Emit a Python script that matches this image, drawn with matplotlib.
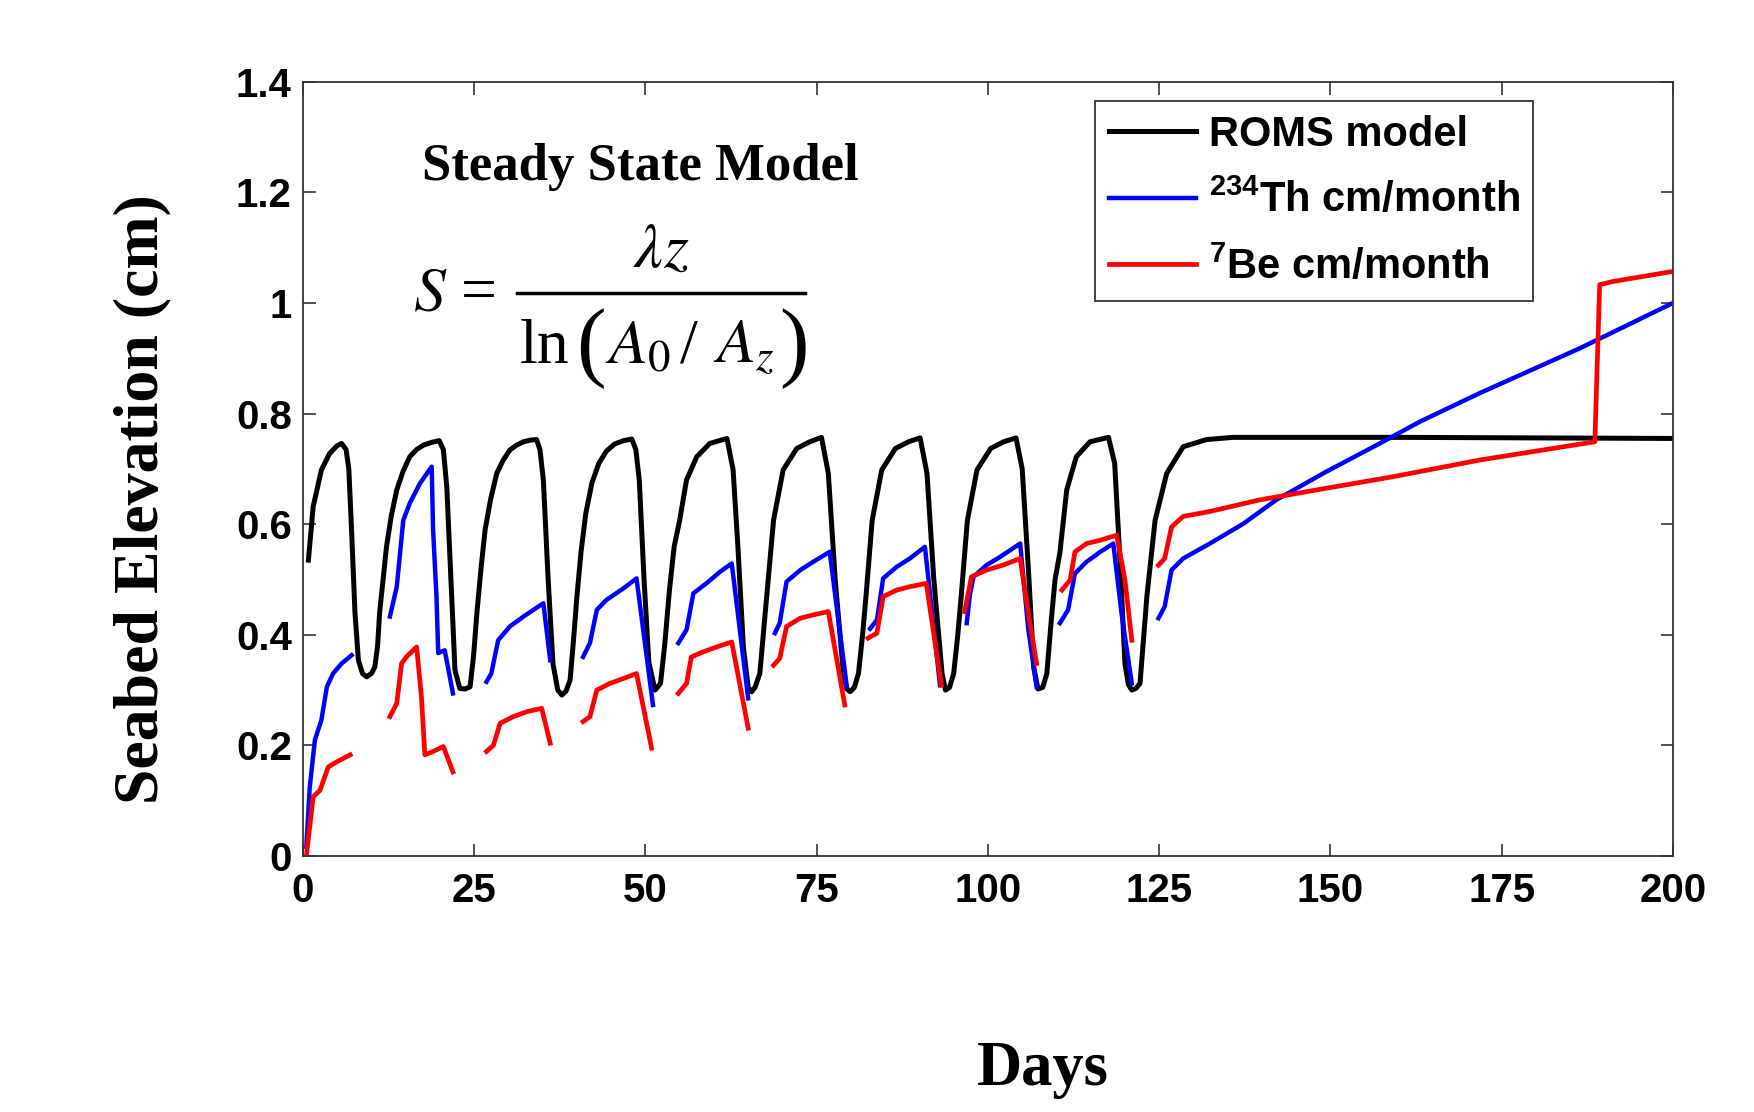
import numpy as np
import matplotlib
matplotlib.use('Agg')
import matplotlib.pyplot as plt
from matplotlib.font_manager import FontProperties
from matplotlib.lines import Line2D

# ROMS model (black)
roms_days = [0.8, 1.5, 2.7, 3.9, 5.0, 5.65, 6.3, 6.7, 7.1, 7.6, 8.1, 8.7, 9.3, 10.0, 10.5, 10.9,
             11.2, 11.7, 12.2, 12.9, 13.7, 14.6, 15.6, 16.6, 17.6, 18.8, 19.9, 20.5, 21.0, 21.5,
             22.2, 22.9, 23.7, 24.4, 24.9, 25.4, 26.0, 26.6, 27.4, 28.3, 29.2, 30.2, 31.2, 32.2,
             33.2, 34.1, 34.6, 35.1, 35.8, 36.5, 37.2, 37.8, 38.4, 39.0, 39.5, 40.0, 40.6, 41.3,
             42.2, 43.2, 44.3, 45.5, 46.8, 48.0, 48.6, 49.1, 49.8, 50.5, 51.4, 52.2, 52.8, 53.5,
             54.2, 55.0, 56.0, 57.5, 59.4, 61.9, 62.8, 63.5, 64.3, 65.0, 65.5, 66.0, 66.7, 67.2,
             67.7, 68.7, 70.1, 72.1, 74.0, 75.7, 76.7, 77.7, 78.9, 79.4, 79.9, 80.5, 81.1, 81.7,
             82.2, 83.1, 84.5, 86.5, 88.4, 90.1, 91.1, 92.1, 93.3, 93.8, 94.4, 95.0, 95.6, 96.1,
             97.0, 98.4, 100.4, 102.3, 104.1, 105.0, 105.9, 106.7, 107.3, 108.0, 108.6, 109.2,
             109.8, 110.5, 111.5, 112.9, 114.9, 117.6, 118.5, 119.3, 120.0, 120.5, 121.0, 121.6,
             122.2, 122.7, 123.2, 124.4, 126.1, 128.5, 131.9, 135.8, 160.0, 200.0]
roms_vals = [0.535, 0.632, 0.698, 0.728, 0.742, 0.746, 0.735, 0.700, 0.590, 0.440, 0.354, 0.330,
             0.324, 0.330, 0.342, 0.380, 0.440, 0.500, 0.559, 0.615, 0.662, 0.695, 0.722, 0.735,
             0.743, 0.748, 0.751, 0.735, 0.668, 0.530, 0.336, 0.303, 0.302, 0.306, 0.360, 0.440,
             0.520, 0.590, 0.645, 0.692, 0.715, 0.734, 0.743, 0.749, 0.752, 0.753, 0.735, 0.680,
             0.500, 0.348, 0.300, 0.291, 0.298, 0.318, 0.390, 0.469, 0.550, 0.620, 0.675, 0.710,
             0.732, 0.745, 0.751, 0.754, 0.735, 0.680, 0.500, 0.350, 0.300, 0.312, 0.380, 0.480,
             0.560, 0.607, 0.680, 0.722, 0.746, 0.755, 0.698, 0.559, 0.378, 0.305, 0.297, 0.305,
             0.330, 0.400, 0.469, 0.607, 0.698, 0.737, 0.749, 0.757, 0.692, 0.500, 0.330, 0.302,
             0.297, 0.305, 0.330, 0.400, 0.470, 0.607, 0.698, 0.737, 0.749, 0.756, 0.692, 0.500,
             0.330, 0.300, 0.305, 0.330, 0.400, 0.470, 0.607, 0.698, 0.737, 0.749, 0.756, 0.700,
             0.520, 0.340, 0.302, 0.305, 0.330, 0.420, 0.500, 0.548, 0.662, 0.722, 0.749, 0.757,
             0.710, 0.529, 0.348, 0.310, 0.300, 0.303, 0.312, 0.390, 0.469, 0.607, 0.692, 0.740,
             0.753, 0.757, 0.757, 0.755]

# 234Th (blue), NaN = gap between segments
th_days = [0.5, 1.0, 1.75, 2.7, 3.5, 4.4, 5.65, 7.1, np.nan,
           12.7, 13.7, 14.65, 15.6, 17.1, 18.8, 19.0, 19.5, 19.75, 20.7, 21.9, np.nan,
           26.8, 27.5, 28.5, 30.2, 32.2, 35.1, 36.1, np.nan,
           40.9, 41.9, 42.9, 44.3, 46.8, 48.7, 51.1, np.nan,
           54.8, 56.0, 57.0, 58.9, 60.9, 62.6, 65.0, np.nan,
           68.9, 69.6, 70.6, 72.6, 74.5, 76.9, 79.4, np.nan,
           82.8, 83.8, 84.7, 86.7, 88.6, 90.8, 93.0, np.nan,
           96.9, 97.4, 97.9, 99.8, 101.8, 104.7, 105.9, 107.1, np.nan,
           110.5, 111.7, 112.7, 114.4, 116.4, 118.3, 119.5, 121.0, np.nan,
           124.9, 125.8, 126.8, 128.5, 132.4, 137.3, 142.1, 149.4, 157.2, 163.0, 171.8, 186.4, 200.0]
th_vals = [0.017, 0.125, 0.21, 0.246, 0.306, 0.33, 0.348, 0.363, np.nan,
           0.433, 0.487, 0.607, 0.638, 0.674, 0.704, 0.59, 0.469, 0.367, 0.372, 0.294, np.nan,
           0.315, 0.33, 0.39, 0.415, 0.433, 0.457, 0.354, np.nan,
           0.36, 0.385, 0.445, 0.463, 0.484, 0.502, 0.273, np.nan,
           0.385, 0.409, 0.475, 0.493, 0.514, 0.529, 0.285, np.nan,
           0.403, 0.421, 0.496, 0.517, 0.532, 0.55, 0.306, np.nan,
           0.411, 0.427, 0.502, 0.523, 0.538, 0.559, 0.309, np.nan,
           0.421, 0.475, 0.505, 0.526, 0.541, 0.565, 0.409, 0.306, np.nan,
           0.421, 0.445, 0.511, 0.532, 0.55, 0.565, 0.439, 0.312, np.nan,
           0.43, 0.451, 0.517, 0.538, 0.565, 0.601, 0.644, 0.695, 0.746, 0.785, 0.837, 0.918, 1.0]

# 7Be (red)
be_days = [0.5, 1.5, 2.5, 3.7, 4.9, 6.9, np.nan,
           12.7, 13.7, 14.4, 15.1, 16.6, 17.3, 17.8, 19.0, 20.5, 21.9, np.nan,
           26.8, 27.8, 28.8, 30.7, 32.7, 34.85, 36.1, np.nan,
           40.9, 41.9, 42.9, 44.8, 46.8, 48.7, 50.9, np.nan,
           54.8, 56.0, 56.7, 58.4, 60.4, 62.6, 65.0, np.nan,
           68.7, 69.6, 70.6, 72.6, 74.5, 76.7, 79.1, np.nan,
           82.5, 83.8, 84.7, 86.7, 88.6, 91.0, 93.2, np.nan,
           96.6, 97.6, 99.8, 102.2, 104.7, 105.9, 107.1, np.nan,
           110.8, 112.0, 112.7, 114.4, 116.4, 118.8, 120.0, 121.0, np.nan,
           124.9, 125.8, 126.8, 128.5, 132.4, 139.7, 149.4, 159.2, 171.8, 188.6, 189.3, 191.3, 200.0]
be_vals = [0.0, 0.107, 0.119, 0.161, 0.17, 0.183, np.nan,
           0.252, 0.276, 0.348, 0.36, 0.378, 0.288, 0.183, 0.189, 0.198, 0.152, np.nan,
           0.189, 0.2, 0.24, 0.252, 0.261, 0.267, 0.204, np.nan,
           0.243, 0.252, 0.30, 0.312, 0.321, 0.33, 0.195, np.nan,
           0.294, 0.312, 0.36, 0.369, 0.378, 0.387, 0.231, np.nan,
           0.345, 0.357, 0.415, 0.43, 0.436, 0.442, 0.273, np.nan,
           0.394, 0.403, 0.469, 0.481, 0.487, 0.493, 0.309, np.nan,
           0.442, 0.505, 0.517, 0.526, 0.538, 0.439, 0.348, np.nan,
           0.481, 0.499, 0.55, 0.565, 0.571, 0.58, 0.499, 0.39, np.nan,
           0.526, 0.538, 0.595, 0.614, 0.623, 0.644, 0.665, 0.686, 0.716, 0.749, 1.033, 1.039, 1.057]

x_ticks = [0, 25, 50, 75, 100, 125, 150, 175, 200]
y_ticks = [0, 0.2, 0.4, 0.6, 0.8, 1.0, 1.2, 1.4]
y_tick_labels = ['0', '0.2', '0.4', '0.6', '0.8', '1', '1.2', '1.4']

# superindices del legend en Arial negrita
plt.rcParams['mathtext.fontset'] = 'custom'
plt.rcParams['mathtext.rm'] = 'Liberation Sans:bold'
plt.rcParams['mathtext.it'] = 'Liberation Sans:bold'
plt.rcParams['mathtext.bf'] = 'Liberation Sans:bold'

fig = plt.figure(figsize=(17.54, 11.12), dpi=100)
ax = fig.add_axes([0.1727, 0.2302, 0.7811, 0.6963])

ax.plot(roms_days, roms_vals, color='black', lw=3.6, label='ROMS model')
ax.plot(th_days, th_vals, color='#0000ff', lw=3.2, label=r'$^{234}$Th cm/month')
ax.plot(be_days, be_vals, color='#ff0000', lw=3.4, label=r'$^{7}$Be cm/month')

ax.set_xlim(0, 200)
ax.set_ylim(0, 1.4)
ax.set_xticks(x_ticks)
ax.set_yticks(y_ticks)
ax.set_yticklabels(y_tick_labels)
ax.tick_params(direction='in', top=True, right=True, length=9, width=1.2, labelsize=29,
               color='#333333')
ax.tick_params(axis='x', pad=11.5)
ax.tick_params(axis='y', pad=8)
for lab in ax.get_xticklabels() + ax.get_yticklabels():
    lab.set_fontfamily('Liberation Sans')
    lab.set_fontweight('bold')
for sp in ax.spines.values():
    sp.set_color('#333333')
    sp.set_linewidth(1.3)

# Leyenda
leg_font = FontProperties(family='Liberation Sans', weight='bold', size=30, math_fontfamily='custom')
leg = ax.legend(loc='upper left', bbox_to_anchor=(0.578, 0.975), borderaxespad=0, prop=leg_font,
                fancybox=False, framealpha=1, edgecolor='#333333', handlelength=2.1,
                handletextpad=0.3, labelspacing=0.6, borderpad=0.33)
leg.get_frame().set_linewidth(1.3)

# Textos
fig.text(0.2404, 0.838, 'Steady State Model', family='Liberation Serif', weight='bold',
         fontsize=38, ha='left', va='baseline')

# Formula armada por partes
mt = dict(fontsize=46, math_fontfamily='stix', va='baseline')
serif = dict(family='Liberation Serif', va='baseline')
fig.text(0.2355, 0.7212, r'$S$', ha='left', **mt)
fig.text(0.2630, 0.7212, '=', fontsize=46, ha='left', **serif)
fig.text(0.3769, 0.7602, r'$\lambda z$', ha='center', **mt)
fig.add_artist(Line2D([0.2946, 0.4590], [0.7362, 0.7362], color='black', lw=2.5,
                      transform=fig.transFigure))
fig.text(0.2965, 0.6736, 'ln', fontsize=46, ha='left', **serif)
fig.text(0.3285, 0.6673, '(', fontsize=64, ha='left', **serif)
fig.text(0.3449, 0.6736, r'$A_0$', ha='left', **mt)
fig.text(0.3877, 0.6736, '/', fontsize=46, ha='left', **serif)
fig.text(0.4065, 0.6736, r'$A_z$', ha='left', **mt)
fig.text(0.4440, 0.6673, ')', fontsize=64, ha='left', **serif)

fig.text(0.081, 0.551, 'Seabed Elevation (cm)', family='Liberation Serif', weight='bold',
         fontsize=46, rotation=90, ha='center', va='center')
fig.text(0.5946, 0.0243, 'Days', family='Liberation Serif', weight='bold', fontsize=45,
         ha='center', va='baseline')

fig.savefig('out.png', dpi=100, facecolor='white')
